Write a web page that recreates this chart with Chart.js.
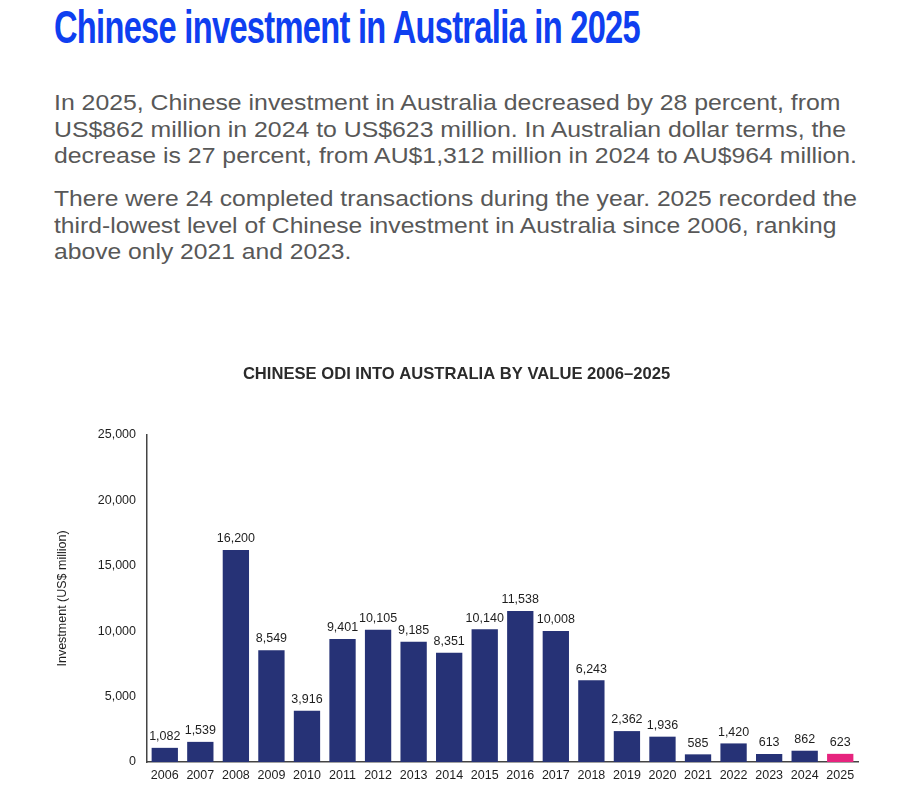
<!DOCTYPE html>
<html>
<head>
<meta charset="utf-8">
<script src="https://cdn.jsdelivr.net/npm/chart.js@4.4.1/dist/chart.umd.min.js"></script>
<style>
  html, body { margin: 0; padding: 0; background: #fff; }
  body { width: 910px; height: 790px; position: relative; overflow: hidden; font-family: "Liberation Sans", Arial, sans-serif; }
  #headline {
    position: absolute; left: 54px; top: 0px; margin: 0;
    font: bold 46px "Liberation Sans", Arial, sans-serif; color: #0f3ff0;
    white-space: nowrap; transform-origin: left top; letter-spacing: -1px;
  }
  .para {
    position: absolute; left: 54px; margin: 0;
    font: 22px "Liberation Sans Narrow", "Liberation Sans", Arial, sans-serif;
    color: #585858; line-height: 26.5px; white-space: nowrap; transform-origin: left top;
  }
  #p1 { top: 90px; }
  #p2 { top: 186px; }
  #chart-wrap { position: absolute; left: 0; top: 355px; width: 910px; height: 435px; }
</style>
</head>
<body>
<h1 id="headline">Chinese investment in Australia in 2025</h1>
<p class="para" id="p1">In 2025, Chinese investment in Australia decreased by 28 percent, from<br>US$862 million in 2024 to US$623 million. In Australian dollar terms, the<br>decrease is 27 percent, from AU$1,312 million in 2024 to AU$964 million.</p>
<p class="para" id="p2">There were 24 completed transactions during the year. 2025 recorded the<br>third-lowest level of Chinese investment in Australia since 2006, ranking<br>above only 2021 and 2023.</p>
<div id="chart-wrap"><canvas id="chart-odi"></canvas></div>

<script>
// ── Data ───────────────────────────────────────────────
const YEARS = ["2006","2007","2008","2009","2010","2011","2012","2013","2014","2015",
               "2016","2017","2018","2019","2020","2021","2022","2023","2024","2025"];
const INVESTMENT = [1082, 1539, 16200, 8549, 3916, 9401, 10105, 9185, 8351, 10140,
                    11538, 10008, 6243, 2362, 1936, 585, 1420, 613, 862, 623];
const Y_TICKS = [0, 5000, 10000, 15000, 20000, 25000];

const NAVY = "#263276";
const PINK = "#e6247e";
const FONT = "'Liberation Sans', Arial, sans-serif";

// squeeze headline / paragraphs to the widths of the original layout
function fitWidth(id, target) {
    const el = document.getElementById(id);
    const w = el.getBoundingClientRect().width;
    el.style.transform = `scaleX(${target / w})`;
}
fitWidth("headline", 586);
fitWidth("p1", 803);
fitWidth("p2", 803);

// ── Labels over bars ───────────────────────────────────
const barLabels = {
    id: "barLabels",
    afterDatasetsDraw(chart) {
        const { ctx } = chart;
        const meta = chart.getDatasetMeta(0);
        ctx.save();
        ctx.font = `12.5px ${FONT}`;
        ctx.fillStyle = "#1e1e1e";
        ctx.textAlign = "center";
        ctx.textBaseline = "bottom";
        meta.data.forEach((bar, i) => {
            ctx.fillText(INVESTMENT[i].toLocaleString("en-US"), bar.x, bar.y - 5);
        });
        ctx.restore();
    }
};

new Chart(document.getElementById("chart-odi"), {
    type: "bar",
    data: {
        labels: YEARS,
        datasets: [{
            data: INVESTMENT,
            backgroundColor: YEARS.map((y, i) => i === YEARS.length - 1 ? PINK : NAVY),
            borderWidth: 0,
            barPercentage: 0.74, categoryPercentage: 1,
        }]
    },
    options: {
        responsive: true, maintainAspectRatio: false, animation: false,
        layout: { padding: { left: 55, right: 52, top: 6, bottom: 1 } },
        plugins: {
            legend: { display: false },
            tooltip: { enabled: false },
            title: {
                display: true,
                text: "CHINESE ODI INTO AUSTRALIA BY VALUE 2006–2025",
                color: "#2b2b2b",
                font: { family: FONT, size: 16.6, weight: "bold" },
                padding: { top: 3, bottom: 51 }
            }
        },
        scales: {
            x: {
                grid: { display: false, drawTicks: false },
                border: { display: true, color: "#444", width: 1.5 },
                ticks: { color: "#1e1e1e", font: { family: FONT, size: 12.5 }, padding: 6, maxRotation: 0, autoSkip: false }
            },
            y: {
                min: 0, max: 25000,
                afterBuildTicks: s => { s.ticks = Y_TICKS.map(v => ({ value: v })); },
                afterFit: s => { s.width = 92; },
                grid: { display: false, drawTicks: false },
                border: { display: true, color: "#444", width: 1.5 },
                ticks: {
                    color: "#1e1e1e", padding: 11,
                    font: { family: FONT, size: 12.5 },
                    callback: v => Number(v).toLocaleString("en-US")
                },
                title: {
                    display: true, text: "Investment (US$ million)", color: "#1e1e1e",
                    font: { family: FONT, size: 12.5 },
                    padding: { top: 0, bottom: 0 }
                }
            }
        }
    },
    plugins: [barLabels]
});
</script>
</body>
</html>
